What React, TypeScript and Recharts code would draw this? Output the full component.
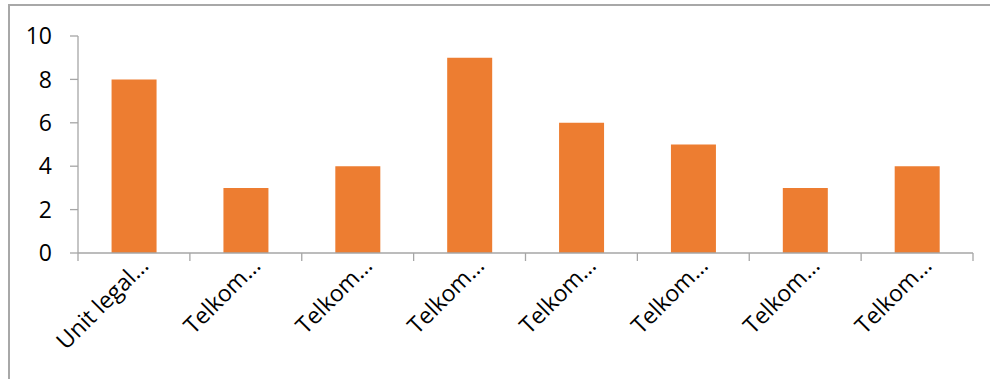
import React from "react";
import { BarChart, Bar, XAxis, YAxis } from "recharts";

const categories = [
  "Unit legal…",
  "Telkom…",
  "Telkom…",
  "Telkom…",
  "Telkom…",
  "Telkom…",
  "Telkom…",
  "Telkom…",
];
const values = [8, 3, 4, 9, 6, 5, 3, 4];
const yTicks = [0, 2, 4, 6, 8, 10];

const data = categories.map((name, i) => ({ name, value: values[i] }));

const FONT = "'Open Sans', sans-serif";
const AXIS = "#a6a6a6";

const CHART_W = 990;
const CHART_H = 379;
const MARGIN = { top: 36, right: 17, bottom: 0, left: 0 };
const Y_W = 78;
const BAND = (CHART_W - MARGIN.left - MARGIN.right - Y_W) / categories.length;

const CatTick = (props: any) => {
  const { x, y, payload, index } = props;
  const ax = x + 16;
  const ay = y + 14;
  const axisY = y;
  const last = index === categories.length - 1;
  return (
    <g>
      <line x1={x - BAND / 2} x2={x - BAND / 2} y1={axisY} y2={axisY + 8} stroke={AXIS} strokeWidth={1.3} />
      {last && (
        <line x1={x + BAND / 2} x2={x + BAND / 2} y1={axisY} y2={axisY + 8} stroke={AXIS} strokeWidth={1.3} />
      )}
      <text
        x={ax}
        y={ay}
        textAnchor="end"
        transform={`rotate(-45, ${ax}, ${ay})`}
        fontFamily={FONT}
        fontSize={23}
        fill="#000"
      >
        {payload.value}
      </text>
    </g>
  );
};

export default function App() {
  return (
    <div style={{ position: "absolute", left: 0, top: 0, width: 990, height: 379, overflow: "hidden", background: "#fff" }}>
      <div
        style={{
          position: "absolute",
          left: 8,
          top: 4,
          width: 1200,
          height: 600,
          borderTop: "2px solid #a8a8a8",
          borderLeft: "2px solid #a8a8a8",
        }}
      />
      <div style={{ position: "absolute", left: 0, top: 0 }}>
        <BarChart
          width={CHART_W}
          height={CHART_H}
          data={data}
          margin={MARGIN}
          barCategoryGap="30%"
        >
          <XAxis
            dataKey="name"
            interval={0}
            axisLine={{ stroke: AXIS, strokeWidth: 1.3 }}
            tickLine={false}
            tickSize={0}
            tickMargin={0}
            tick={<CatTick />}
            height={126}
          />
          <YAxis
            width={Y_W}
            domain={[0, 10]}
            ticks={yTicks}
            interval={0}
            axisLine={{ stroke: AXIS, strokeWidth: 1.3 }}
            tickLine={{ stroke: AXIS, strokeWidth: 1.3 }}
            tickSize={8}
            tickMargin={18}
            tick={{ fontFamily: FONT, fontSize: 23, fill: "#000" }}
          />
          <Bar dataKey="value" fill="#ED7D31" isAnimationActive={false} />
        </BarChart>
      </div>
    </div>
  );
}
